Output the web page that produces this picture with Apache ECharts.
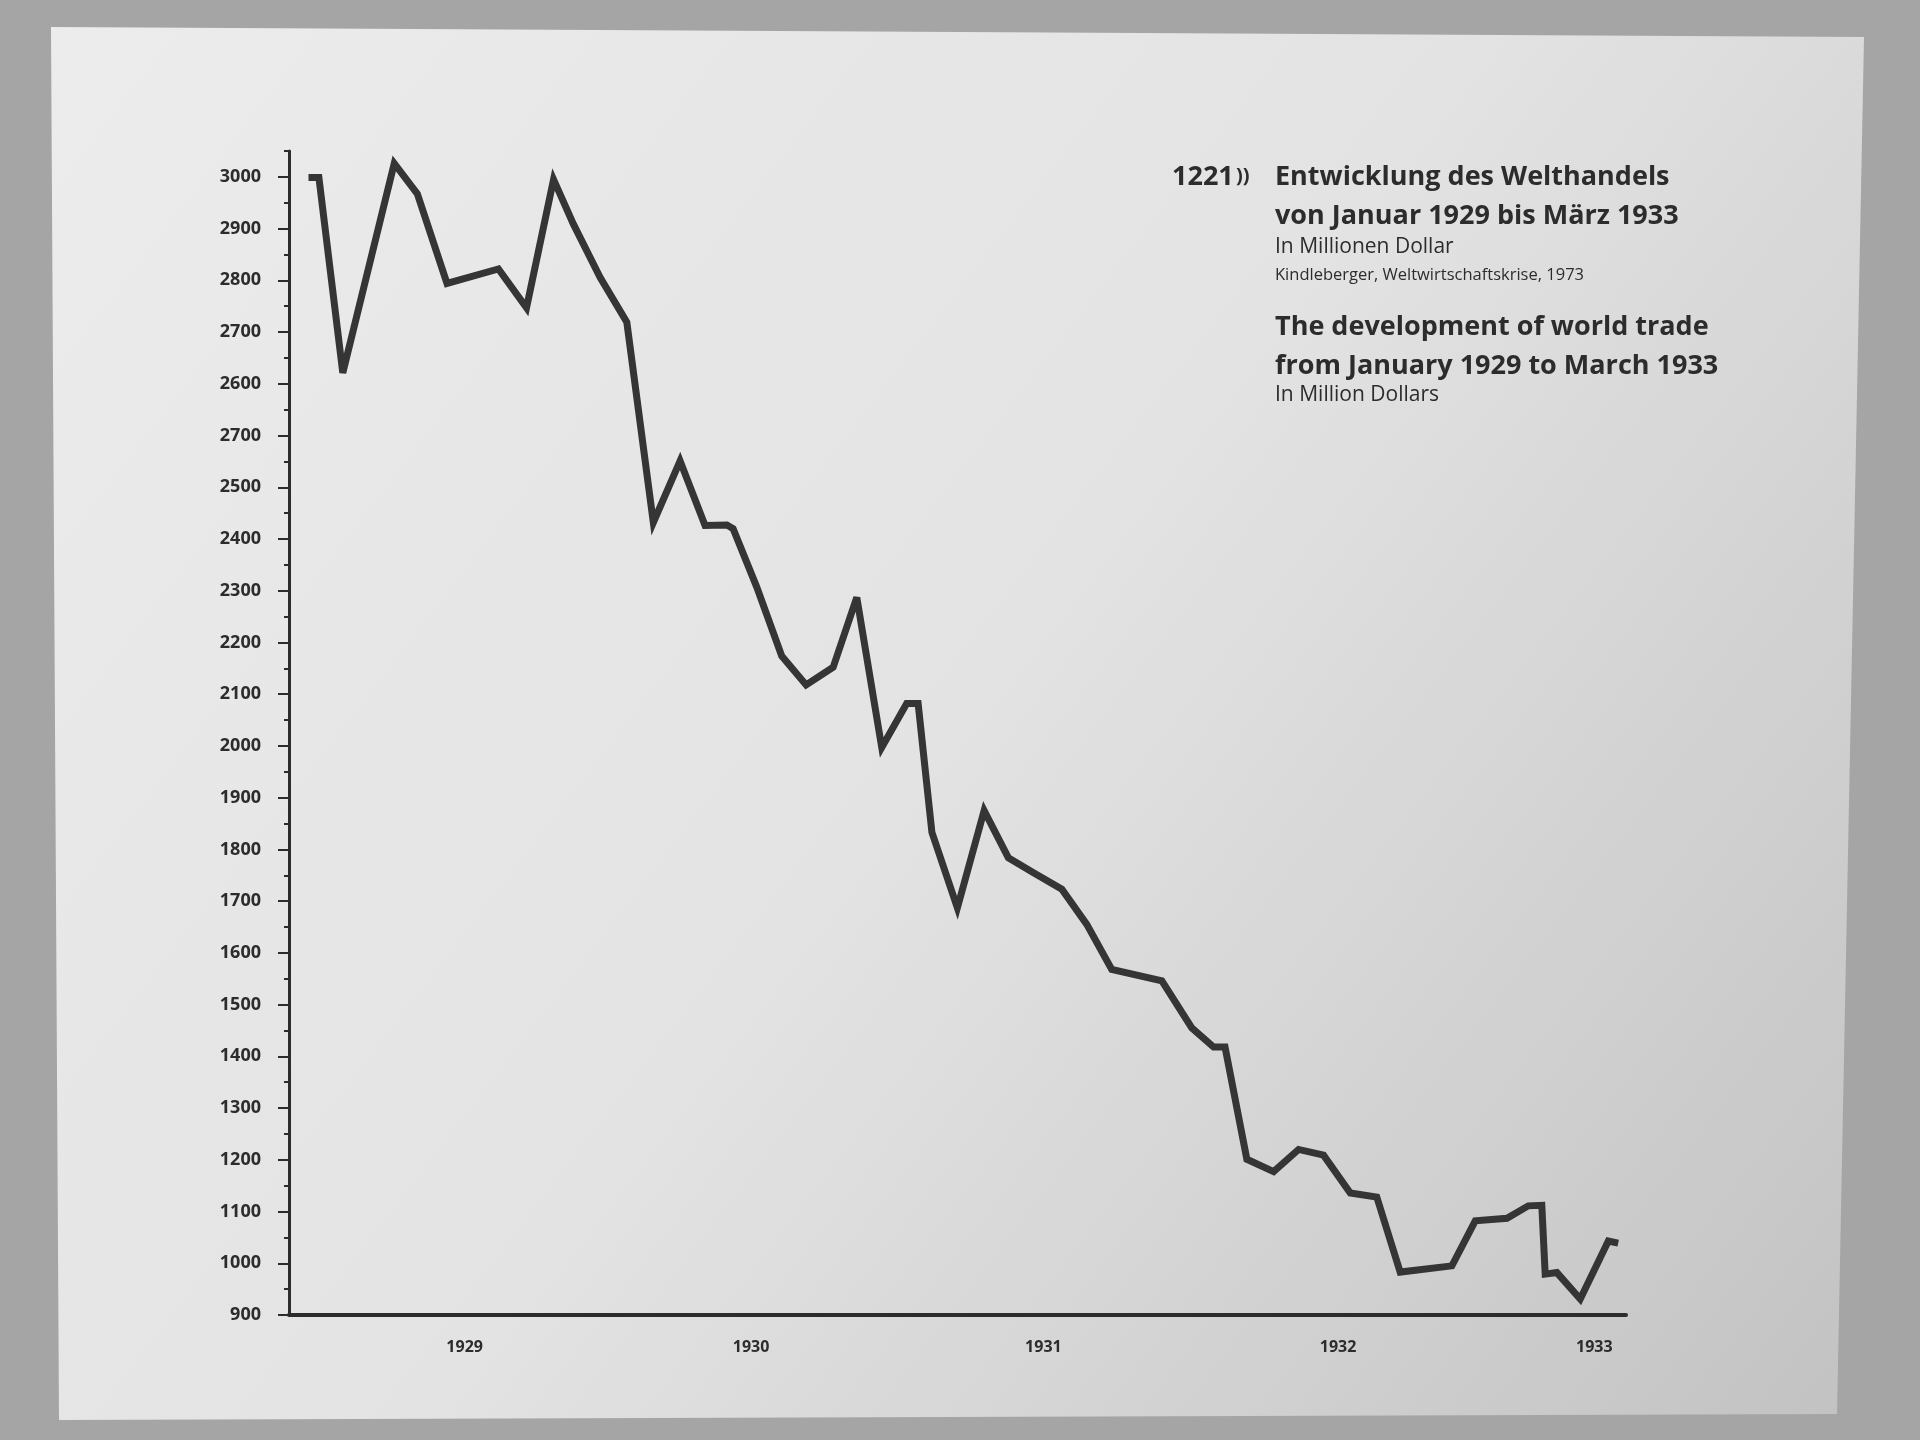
<!DOCTYPE html>
<html>
<head>
<meta charset="utf-8">
<script src="https://cdn.jsdelivr.net/npm/echarts@6/dist/echarts.min.js"></script>
<style>
html,body{margin:0;padding:0;background:#a5a5a5;}
#chart{width:1920px;height:1440px;}
</style>
</head>
<body>
<div id="chart"></div>
<script>
// ---- data ----
// month position (0 = January 1929, 50 = March 1933) of each vertex of the drawn line
const monthPos = [-0.4, 0, 0.92, 2.90, 3.79, 4.93, 6.91, 7.99, 9.03, 9.79, 10.82, 11.85,
  12.87, 13.9, 14.86, 15.7, 15.94, 16.85, 17.81, 18.75, 19.79, 20.7, 21.66, 22.62, 23.06,
  23.59, 24.57, 25.6, 26.53, 27.5, 28.59, 29.55, 30.51, 32.44, 33.59, 34.43, 34.87, 35.71,
  36.74, 37.7, 38.66, 39.69, 40.71, 41.61, 43.6, 44.5, 45.72, 46.54, 47.06, 47.19, 47.64,
  48.54, 49.62, 50];
// world trade, million dollars, in the units of the drawn (linear) vertical scale
const tradeValue = [3099, 3099, 2721, 3126, 3067, 2894, 2922, 2847, 3095, 3009, 2906, 2819,
  2432, 2551, 2426, 2427, 2420, 2307, 2174, 2118, 2152, 2287, 1997, 2082, 2082,
  1833, 1687, 1875, 1784, 1755, 1723, 1655, 1568, 1546, 1455, 1418, 1418, 1201,
  1177, 1220, 1209, 1136, 1128, 983, 995, 1082, 1087, 1111, 1112, 979, 982,
  931, 1043, 1039];
// vertical tick values and the labels printed beside them (as printed, incl. the repeated 2700)
const yTickValues = [900,1000,1100,1200,1300,1400,1500,1600,1700,1800,1900,2000,2100,2200,
  2300,2400,2500,2600,2700,2800,2900,3000,3100];
const yTickLabels = ['900','1000','1100','1200','1300','1400','1500','1600','1700','1800','1900',
  '2000','2100','2200','2300','2400','2500','2700','2600','2700','2800','2900','3000'];
const yMinorValues = [950,1050,1150,1250,1350,1450,1550,1650,1750,1850,1950,2050,2150,2250,
  2350,2450,2550,2650,2750,2850,2950,3050,3150];
// year labels and the month positions where they are printed
const yearLabels = ['1929','1930','1931','1932','1933'];
const yearLabelMonths = [5.61, 16.63, 27.88, 39.22, 49.08];

const titleDe1 = 'Entwicklung des Welthandels';
const titleDe2 = 'von Januar 1929 bis März 1933';
const unitDe = 'In Millionen Dollar';
const sourceDe = 'Kindleberger, Weltwirtschaftskrise, 1973';
const titleEn1 = 'The development of world trade';
const titleEn2 = 'from January 1929 to March 1933';
const unitEn = 'In Million Dollars';
const audioNo = '1221';

// ---- chart ----
const chart = echarts.init(document.getElementById('chart'), null, {renderer:'canvas'});
const ink = '#2c2c2c';
const FF = '"Open Sans","Noto Sans","DejaVu Sans",sans-serif';

function txt(text, x, y, font) {
  return {type:'text', x:x, y:y, z:5,
    style:{text:text, font:font, fill:ink, align:'left', verticalAlign:'top',
           textAlign:'left', textVerticalAlign:'top'}};
}

const option = {
  backgroundColor:'#a5a5a5',
  animation:false,
  grid:{left:289, right:294, top:151, bottom:125, containLabel:false},
  xAxis:{
    type:'value', min:-1.15, max:50.3,
    axisLine:{show:true, onZero:false, lineStyle:{color:ink, width:4}},
    axisTick:{show:false},
    splitLine:{show:false},
    axisLabel:{
      customValues: yearLabelMonths,
      margin:24,
      color:ink, fontFamily:FF, fontWeight:700, fontSize:16,
      formatter:function(v){
        let best=0, d=1e9;
        yearLabelMonths.forEach((m,i)=>{ if(Math.abs(m-v)<d){d=Math.abs(m-v);best=i;} });
        return yearLabels[best];
      }
    }
  },
  yAxis:[{
    type:'value', min:900, max:3150, interval:100,
    axisLine:{show:true, onZero:false, lineStyle:{color:ink, width:3}},
    axisTick:{show:true, inside:false, length:11, customValues:yTickValues,
              lineStyle:{color:ink, width:2}},
    splitLine:{show:false},
    axisLabel:{
      customValues:yTickValues,
      margin:28, color:ink, fontFamily:FF, fontWeight:700, fontSize:18,
      formatter:function(v){
        const i = Math.round((v-900)/100);
        return (i>=0 && i<yTickLabels.length) ? yTickLabels[i] : '';
      }
    }
  },{
    type:'value', min:900, max:3150, interval:50, position:'left',
    axisLine:{show:false, onZero:false},
    axisTick:{show:true, inside:false, length:5, customValues:yMinorValues,
              lineStyle:{color:ink, width:2}},
    axisLabel:{show:false},
    splitLine:{show:false}
  }],
  series:[{
    type:'line',
    data: monthPos.map((m,i)=>[m, tradeValue[i]]),
    showSymbol:false,
    symbol:'none',
    lineStyle:{color:'#353535', width:7, join:'miter', miterLimit:4, cap:'butt'},
    z:3
  }],
  graphic:[
    {type:'polygon', z:-10, silent:true,
     shape:{points:[[51,27],[1864,37],[1837,1414],[59,1420]]},
     style:{fill:new echarts.graphic.LinearGradient(0,0,1,1,[
       {offset:0,color:'#ececec'},{offset:0.5,color:'#e3e3e3'},{offset:1,color:'#c2c2c2'}])}},
    txt(audioNo, 1172, 164, '700 27px '+FF),
    txt('))', 1236, 166, '700 20px '+FF),
    txt(titleDe1, 1275, 164, '700 27px '+FF),
    txt(titleDe2, 1275, 203, '700 27px '+FF),
    txt(unitDe, 1275, 237, '400 21px '+FF),
    txt(sourceDe, 1275, 267, '400 16.5px '+FF),
    txt(titleEn1, 1275, 314, '700 27px '+FF),
    txt(titleEn2, 1275, 353, '700 27px '+FF),
    txt(unitEn, 1275, 385, '400 21px '+FF)
  ]
};
chart.setOption(option);
</script>
</body>
</html>
